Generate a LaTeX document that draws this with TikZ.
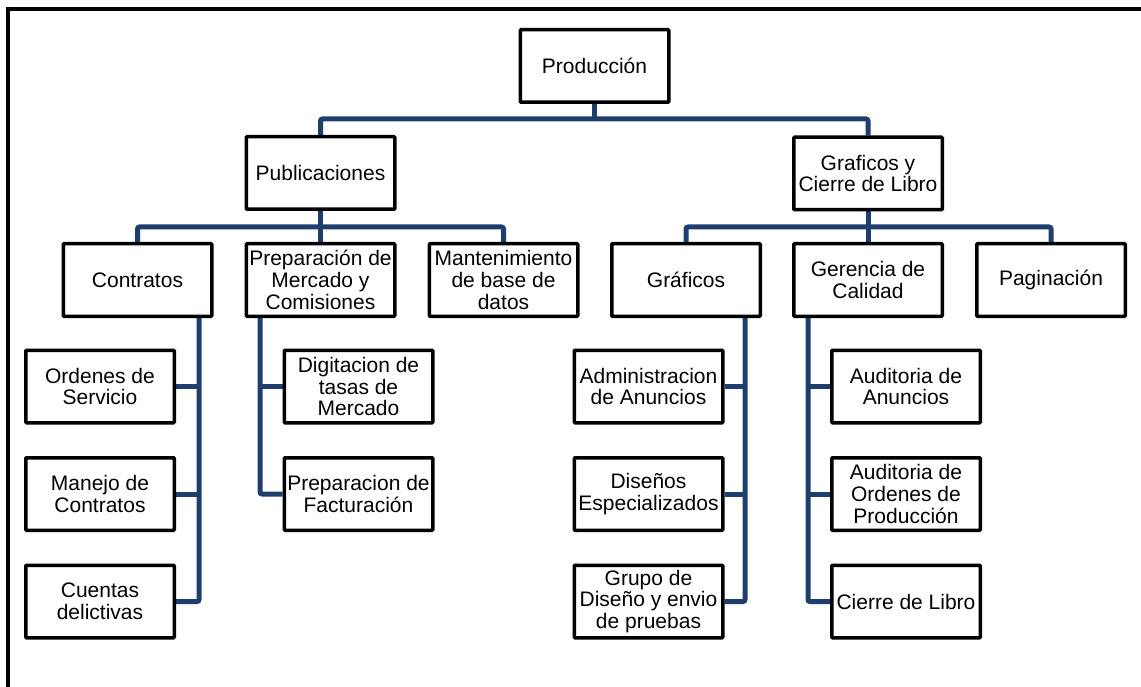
\documentclass[tikz,border=0pt]{standalone}
\usepackage{fontspec}
\setmainfont{Liberation Sans}
\usetikzlibrary{backgrounds}
\definecolor{linkblue}{RGB}{30,62,110}
\begin{document}
\begin{tikzpicture}[x=1pt,y=-1pt,
  box/.style={draw=black, line width=3.5pt, fill=white, minimum width=148.5pt,
    minimum height=72.5pt, inner sep=0pt, align=center,
    font=\fontsize{21}{21.7}\selectfont, rounded corners=0.8pt},
  conn/.style={draw=linkblue, line width=5pt, rounded corners=2pt},
  frameline/.style={draw=black, line width=4pt}]
\useasboundingbox (0,0) rectangle (1141,687);

% outer frame (top and left edges)
\coordinate (fa) at (6,9);
\coordinate (fb) at (1141,9);
\coordinate (fc) at (8,687);
\draw[frameline] (fa) -- (fb);
\draw[frameline] (fa -| fc) -- (fc);

% level 0 / 1
\node[box] (prod) at (594.5,66) {Producción};
\node[box] (pub)  at (320.5,173) {Publicaciones};
\node[box] (gcl)  at (868,173.5) {Graficos y\\Cierre de Libro};

% level 2
\node[box] (contr) at (137.5,280) {Contratos};
\node[box] (prep)  at (320.5,280) {Preparación de\\Mercado y\\Comisiones};
\node[box] (mant)  at (503.5,280) {Mantenimiento\\de base de\\datos};
\node[box] (graf)  at (686,280) {Gráficos};
\node[box] (ger)   at (868,280) {Gerencia de\\Calidad};
\node[box] (pag)   at (1051,280) {Paginación};

% level 3
\node[box] (ord)  at (100,386.5) {Ordenes de\\Servicio};
\node[box] (man)  at (100,494) {Manejo de\\Contratos};
\node[box] (cue)  at (100,601.5) {Cuentas\\delictivas};
\node[box] (dig)  at (358.5,386.5) {Digitacion de\\tasas de\\Mercado};
\node[box] (fac)  at (358.5,494) {Preparacion de\\Facturación};
\node[box] (adm)  at (648.5,386.5) {Administracion\\de Anuncios};
\node[box] (dis)  at (648.5,494) {Diseños\\Especializados};
\node[box] (gru)  at (648.5,601.5) {Grupo de\\Diseño y envio\\de pruebas};
\node[box] (aan)  at (906,386.5) {Auditoria de\\Anuncios};
\node[box] (aor)  at (906,494) {Auditoria de\\Ordenes de\\Producción};
\node[box] (cie)  at (906,601.5) {Cierre de Libro};

% bus levels and side spines
\coordinate (b1) at (0,119);
\coordinate (b2) at (0,227);
\coordinate (v1) at ([xshift=61.5]contr.south);
\coordinate (v2) at ([xshift=-60.5]prep.south);
\coordinate (v3) at ([xshift=59]graf.south);
\coordinate (v4) at ([xshift=-60]ger.south);

\begin{pgfonlayer}{background}
  \draw[conn] (prod.south) -- (prod.south |- b1);
  \draw[conn] (pub.north) |- (gcl.north |- b1) -- (gcl.north);

  \draw[conn] (pub.south) -- (prep.north);
  \draw[conn] (contr.north) |- (mant.north |- b2) -- (mant.north);
  \draw[conn] (gcl.south) -- (ger.north);
  \draw[conn] (graf.north) |- (pag.north |- b2) -- (pag.north);

  \draw[conn] (v1) |- (cue.east);
  \draw[conn] (ord.east) -- (ord.east -| v1);
  \draw[conn] (man.east) -- (man.east -| v1);

  \draw[conn] (v2) |- (fac.west);
  \draw[conn] (dig.west) -- (dig.west -| v2);

  \draw[conn] (v3) |- (gru.east);
  \draw[conn] (adm.east) -- (adm.east -| v3);
  \draw[conn] (dis.east) -- (dis.east -| v3);

  \draw[conn] (v4) |- (cie.west);
  \draw[conn] (aan.west) -- (aan.west -| v4);
  \draw[conn] (aor.west) -- (aor.west -| v4);
\end{pgfonlayer}
\end{tikzpicture}
\end{document}
